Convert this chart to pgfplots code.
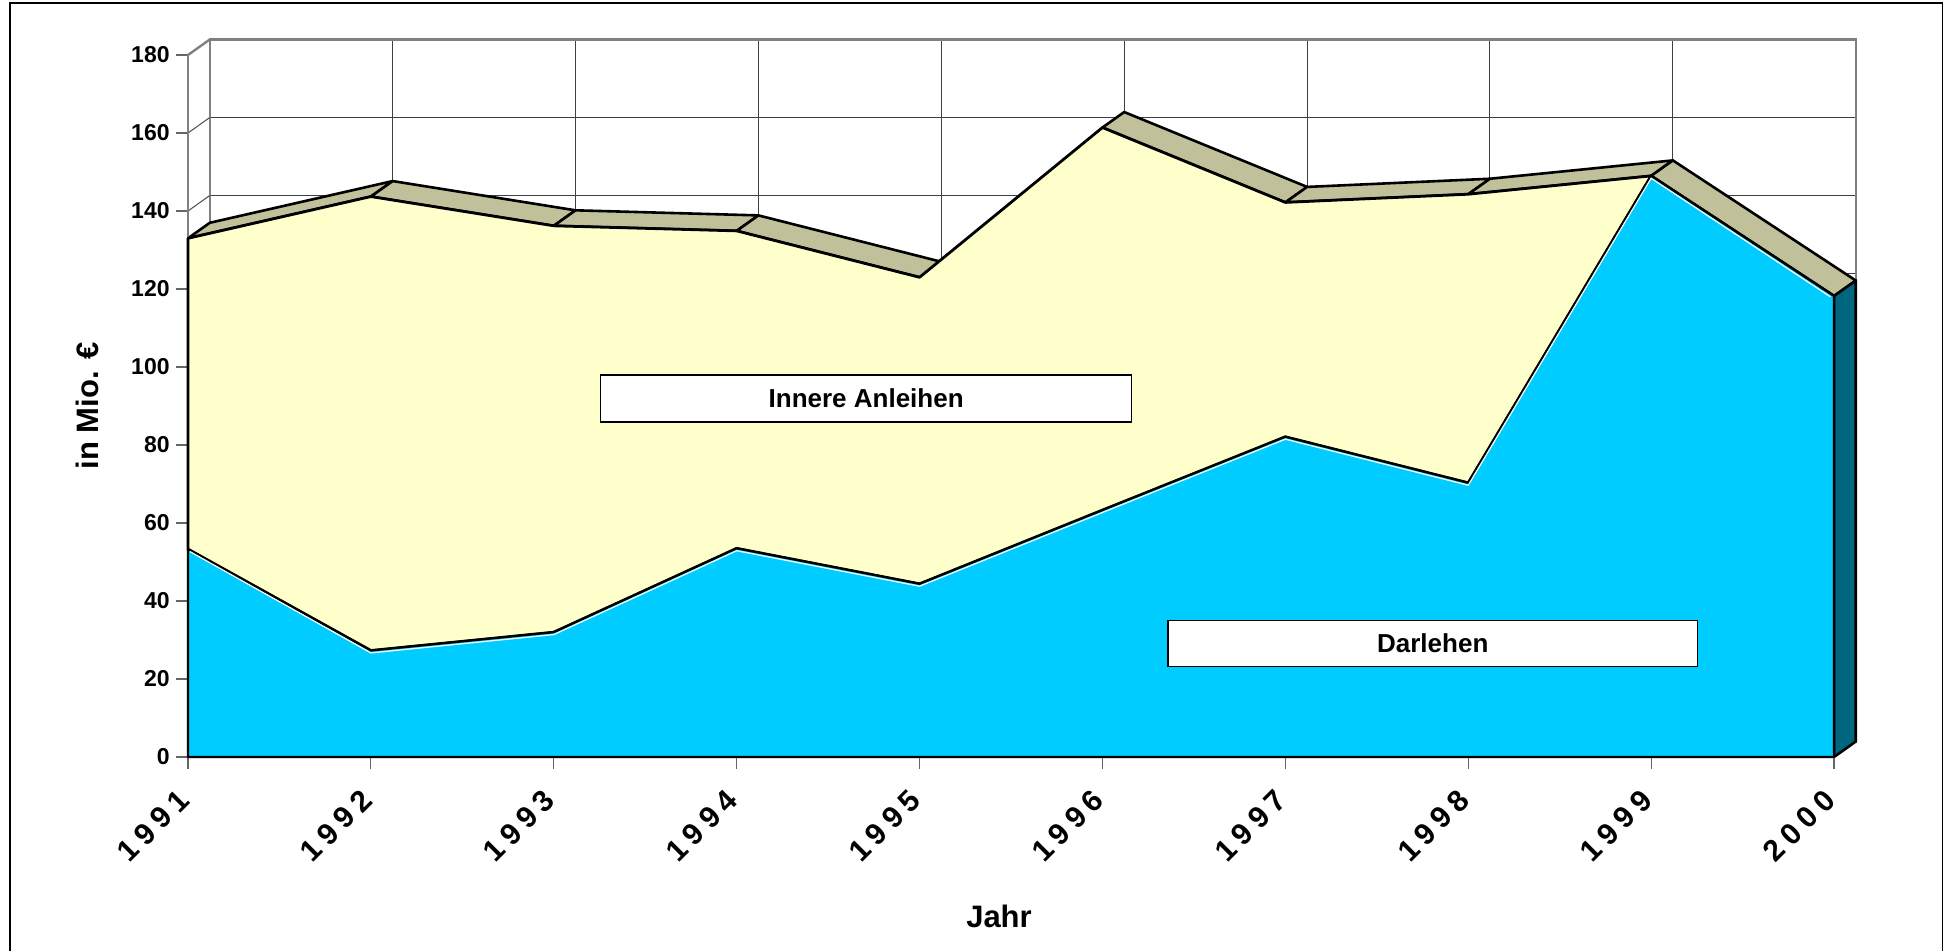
\documentclass[border=0pt]{standalone}
\usepackage{fontspec}
\setmainfont{Liberation Sans}
\usepackage{pgfplots}
\pgfplotsset{compat=1.18}
\definecolor{darl}{RGB}{0,204,255}
\definecolor{inner}{RGB}{255,255,204}
\definecolor{topface}{RGB}{192,192,154}
\definecolor{sideface}{RGB}{0,102,128}
\pgfplotsset{common/.style={scale only axis, width=823pt, height=351pt, xmin=0, xmax=9, ymin=0, ymax=180}}
\begin{document}
\begin{tikzpicture}
\useasboundingbox (0,0) rectangle (973pt,475.5pt);
\draw[black, line width=0.6pt] (5pt,-2pt) -- (5pt,474pt) -- (971.4pt,474pt) -- (971.4pt,-2pt);
% back wall with grid
\begin{axis}[common, at={(104.85pt,104.75pt)}, anchor=south west,
  xtick={0,1,2,3,4,5,6,7,8,9}, ytick={0,20,...,180},
  xticklabels={}, yticklabels={}, major tick length=0pt,
  grid=major, major grid style={black!75, line width=0.5pt},
  axis line style={black!50, line width=1.2pt}]
\end{axis}
% top faces and side face
\begin{axis}[common, at={(94pt,97pt)}, anchor=south west, hide axis, clip=false]
\draw[black!70, line width=0.5pt] (axis cs:0,20) -- (axis cs:0.119,23.97);
\draw[black!70, line width=0.5pt] (axis cs:0,40) -- (axis cs:0.119,43.97);
\draw[black!70, line width=0.5pt] (axis cs:0,60) -- (axis cs:0.119,63.97);
\draw[black!70, line width=0.5pt] (axis cs:0,80) -- (axis cs:0.119,83.97);
\draw[black!70, line width=0.5pt] (axis cs:0,100) -- (axis cs:0.119,103.97);
\draw[black!70, line width=0.5pt] (axis cs:0,120) -- (axis cs:0.119,123.97);
\draw[black!70, line width=0.5pt] (axis cs:0,140) -- (axis cs:0.119,143.97);
\draw[black!70, line width=0.5pt] (axis cs:0,160) -- (axis cs:0.119,163.97);
\draw[black!50, line width=1.2pt] (axis cs:0,180) -- (axis cs:0.119,183.97);
\addplot[fill=topface, draw=black, line width=1.3pt, line join=round] coordinates {(0,133.0)(1,143.7)(1.119,147.67)(0.119,136.97)} -- cycle;
\addplot[fill=topface, draw=black, line width=1.3pt, line join=round] coordinates {(1,143.7)(2,136.2)(2.119,140.17)(1.119,147.67)} -- cycle;
\addplot[fill=topface, draw=black, line width=1.3pt, line join=round] coordinates {(2,136.2)(3,134.9)(3.119,138.87)(2.119,140.17)} -- cycle;
\addplot[fill=topface, draw=black, line width=1.3pt, line join=round] coordinates {(3,134.9)(4,123.0)(4.119,126.97)(3.119,138.87)} -- cycle;
\addplot[fill=topface, draw=black, line width=1.3pt, line join=round] coordinates {(5,161.4)(6,142.2)(6.119,146.17)(5.119,165.37)} -- cycle;
\addplot[fill=topface, draw=black, line width=1.3pt, line join=round] coordinates {(6,142.2)(7,144.3)(7.119,148.27)(6.119,146.17)} -- cycle;
\addplot[fill=topface, draw=black, line width=1.3pt, line join=round] coordinates {(7,144.3)(8,149.0)(8.119,152.97)(7.119,148.27)} -- cycle;
\addplot[fill=topface, draw=black, line width=1.3pt, line join=round] coordinates {(8,149.0)(9,118.2)(9.119,122.17)(8.119,152.97)} -- cycle;
\addplot[fill=sideface, draw=black, line width=1.3pt, line join=round] coordinates {(9,0)(9.119,3.97)(9.119,122.17)(9,118.2)} -- cycle;
\end{axis}
% front areas
\begin{axis}[common, at={(94pt,97pt)}, anchor=south west, stack plots=y, clip=false,
  axis lines*=left,
  x axis line style={black, line width=0.6pt},
  y axis line style={black!50, line width=0.8pt},
  xtick={0,1,2,3,4,5,6,7,8,9},
  xticklabels={1991,1992,1993,1994,1995,1996,1997,1998,1999,2000},
  ytick={0,20,...,180},
  tick align=outside, major tick length=6pt,
  tick style={black!60, line width=0.6pt},
  /pgf/number format/assume math mode=true,
  yticklabel style={font=\fontsize{11.5}{12}\selectfont\bfseries, anchor=east, inner sep=0pt, xshift=-3pt},
  xticklabel style={font=\fontsize{15}{15}\selectfont\bfseries\addfontfeature{LetterSpace=22}, xshift=-2pt, yshift=-13pt, rotate=45, anchor=east, inner sep=0pt},
  xlabel={Jahr}, ylabel={in Mio. €},
  every axis x label/.style={at={(axis description cs:0.4927,-0.2265)}, anchor=center, font=\fontsize{15.5}{16}\selectfont\bfseries},
  every axis y label/.style={at={(axis description cs:-0.0608,0.5)}, rotate=90, anchor=center, font=\fontsize{15.5}{16}\selectfont\bfseries}]
\addplot[fill=darl, draw=black, line width=1.1pt, line join=round] coordinates {(0,53.3)(1,27.3)(2,32.0)(3,53.5)(4,44.4)(5,63.3)(6,82.1)(7,70.3)(8,149.0)(9,118.2)} \closedcycle;
\addplot[fill=inner, draw=black, line width=1.4pt, line join=round] coordinates {(0,79.7)(1,116.4)(2,104.2)(3,81.4)(4,78.6)(5,98.1)(6,60.1)(7,74.0)(8,0)(9,0)} \closedcycle;
\end{axis}
% highlight and series labels
\begin{axis}[common, at={(94pt,97pt)}, anchor=south west, hide axis, clip=false]
\addplot[white, line width=0.6pt, yshift=-1.2pt] coordinates {(0.01,53.3)(1,27.3)(2,32.0)(3,53.5)(4,44.4)(5,63.3)(6,82.1)(7,70.3)(8,149.0)(8.98,118.6)};
\node[draw=black, fill=white, line width=0.75pt, minimum width=265.5pt, minimum height=23.6pt, inner sep=0pt, font=\fontsize{13}{13}\selectfont\bfseries] at (axis cs:3.708,91.95) {Innere Anleihen};
\node[draw=black, fill=white, line width=0.75pt, minimum width=264.8pt, minimum height=23.2pt, inner sep=0pt, font=\fontsize{13}{13}\selectfont\bfseries] at (axis cs:6.806,29.1) {Darlehen};
\end{axis}
\end{tikzpicture}
\end{document}
